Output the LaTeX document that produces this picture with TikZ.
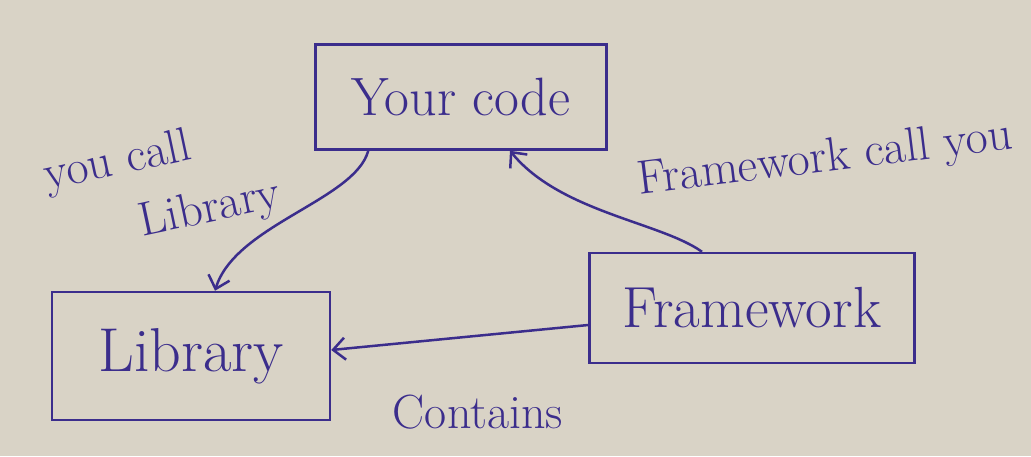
\documentclass[tikz,border=0pt]{standalone}
\usetikzlibrary{arrows.meta}
\definecolor{ink}{HTML}{3B2D8C}
\definecolor{paper}{HTML}{D9D3C6}
\tikzset{
  box/.style={draw=ink, line width=2.5pt, text=ink, minimum width=#1},
  lbl/.style={text=ink, inner sep=1pt, font=\fontsize{48}{56}\selectfont},
  conn/.style={draw=ink, line width=2.5pt, -{Straight Barb[length=12pt,width=22pt,line width=2.5pt]}},
}
\begin{document}
\begin{tikzpicture}[x=1pt,y=-1pt]
\fill[paper] (0,0) rectangle (1031,456);
\useasboundingbox (0,0) rectangle (1031,456);
\node[box=291pt, minimum height=105pt, font=\fontsize{54}{58}\selectfont] (code) at (461,97) {Your code};
\node[box=278pt, minimum height=128pt, font=\fontsize{62}{66}\selectfont] (lib) at (191,356) {Library};
\node[box=325pt, minimum height=110pt, font=\fontsize{58}{62}\selectfont] (fw) at (752,308) {Framework};
\draw[conn] ([xshift=54pt]code.south west) .. controls (355,200) and (235,225) .. ([xshift=24pt]lib.north);
\draw[conn] ([xshift=-50pt]fw.north) .. controls (660,222) and (560,212) .. ([xshift=49pt]code.south);
\draw[conn] ([yshift=-17pt]fw.west) -- ([yshift=6pt]lib.east);
\node[lbl, rotate=12] (l1) at (118,163) {you call};
\node[lbl, rotate=12] (l2) at (210,210) {Library};
\node[lbl, rotate=7] (l3) at (825,160) {Framework call you};
\node[lbl] (l4) at (478,412) {Contains};
\end{tikzpicture}
\end{document}
